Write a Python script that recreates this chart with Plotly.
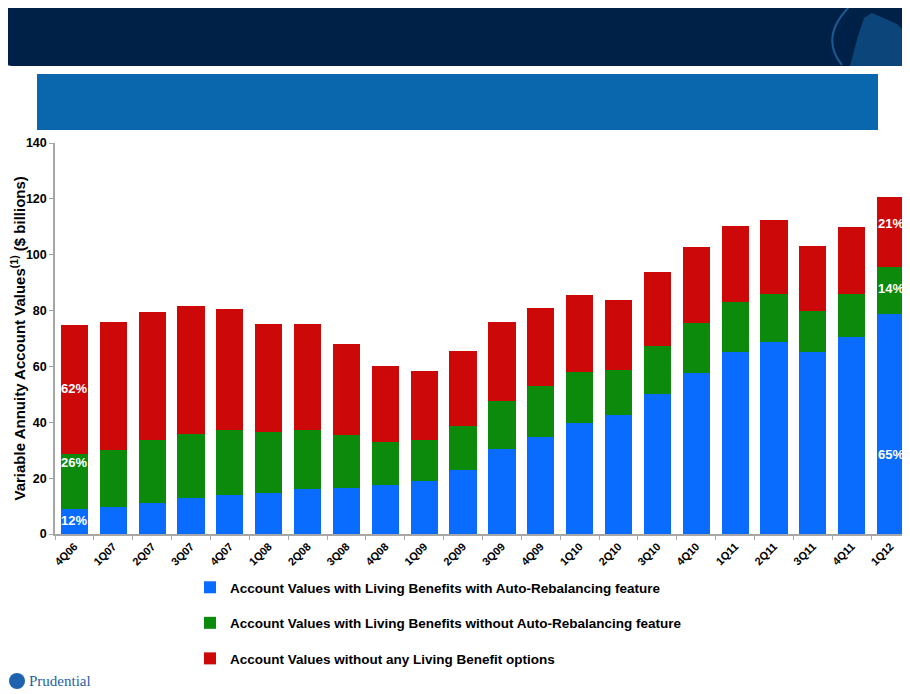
import plotly.graph_objects as go

# quarters on the x axis
quarters = ['4Q06', '1Q07', '2Q07', '3Q07', '4Q07', '1Q08', '2Q08', '3Q08', '4Q08',
            '1Q09', '2Q09', '3Q09', '4Q09', '1Q10', '2Q10', '3Q10', '4Q10',
            '1Q11', '2Q11', '3Q11', '4Q11', '1Q12']

# account values, $ billions
auto_rebal = [9.0, 9.8, 11.2, 12.8, 14.1, 14.6, 16.0, 16.5, 17.7, 19.1, 23.0,
              30.3, 34.9, 39.8, 42.5, 50.0, 57.5, 65.2, 68.8, 65.2, 70.7, 78.6]
no_auto_rebal = [19.6, 20.3, 22.3, 23.1, 23.3, 21.8, 21.4, 18.8, 15.3, 14.4, 15.8,
                 17.5, 18.0, 18.1, 16.1, 17.2, 18.1, 17.8, 17.1, 14.7, 15.3, 16.9]
no_benefit = [46.2, 45.7, 45.9, 45.8, 43.1, 38.7, 37.7, 32.9, 27.0, 24.8, 26.6,
              28.0, 28.0, 27.7, 25.1, 26.6, 27.3, 27.4, 26.7, 23.2, 23.9, 25.3]

series_names = ['Account Values with Living Benefits with Auto-Rebalancing feature',
                'Account Values with Living Benefits without Auto-Rebalancing feature',
                'Account Values without any Living Benefit options']
series_colors = ['#0a6cff', '#0b8a0b', '#cc0808']

# which bars get share labels
share_quarters = ['4Q06', '1Q12']

FONT = 'Liberation Sans, Arial, sans-serif'

# page puts the figure 8px in from the corner, so the figure is 8px smaller
# and everything below is laid out in window pixels
OFF = 8
W, H = 910 - OFF, 694 - OFF
L, R, T, B = 55, 910, 143, 534


def px(x):
    return (x - L) / (R - L)


def py(y):
    return (B - y) / (B - T)


fig = go.Figure()
series = [auto_rebal, no_auto_rebal, no_benefit]
for i, vals in enumerate(series):
    fig.add_trace(go.Bar(x=quarters, y=vals, name=series_names[i],
                         marker=dict(color=series_colors[i], line=dict(width=0)),
                         legendgroup=str(i)))

# share labels, placed inside each segment
label_pos = {('4Q06', 0): 0.55, ('4Q06', 1): 0.85, ('4Q06', 2): 0.51,
             ('1Q12', 0): 0.36, ('1Q12', 1): 0.55, ('1Q12', 2): 0.62}
for q in share_quarters:
    k = quarters.index(q)
    total = sum(s[k] for s in series)
    base = 0
    for i, s in enumerate(series):
        fig.add_annotation(x=q, y=base + s[k] * label_pos[(q, i)],
                           text=f"{round(s[k] / total * 100)}%", showarrow=False,
                           font=dict(family=FONT, size=13, color='white', weight='bold'))
        base += s[k]

# y axis title as an annotation so it can sit closer to the edge
fig.add_annotation(x=px(18), y=0.5, xref='paper', yref='paper', textangle=-90,
                   text='Variable Annuity Account Values<sup>(1)</sup> ($ billions)',
                   showarrow=False, xanchor='center', yanchor='middle',
                   font=dict(family=FONT, size=15, color='black', weight='bold'))

# slide header: dark rounded band and blue title bar
x0, x1, y0, y1, r = px(4), px(908), py(2), py(66), 8
rx, ry = r / (R - L), r / (B - T)
header = (f"M {x0 + rx},{y0} L {x1 - rx},{y0} Q {x1},{y0} {x1},{y0 - ry} "
          f"L {x1},{y1 + ry} Q {x1},{y1} {x1 - rx},{y1} L {x0 + rx},{y1} "
          f"Q {x0},{y1} {x0},{y1 + ry} L {x0},{y0 - ry} Q {x0},{y0} {x0 + rx},{y0} Z")
fig.add_shape(type='path', path=header, xref='paper', yref='paper',
              fillcolor='#002147', line=dict(width=0), layer='below')
fig.add_shape(type='rect', x0=px(37), x1=px(878), y0=py(130), y1=py(74),
              xref='paper', yref='paper', fillcolor='#0a66ad', line=dict(width=0))

# rock emblem in header corner
rock = [(850, 66), (858, 36), (864, 18), (872, 13), (897, 24), (906, 33), (906, 66)]
rock_path = 'M ' + ' L '.join(f"{px(a)},{py(b)}" for a, b in rock) + ' Z'
fig.add_shape(type='path', path=rock_path, xref='paper', yref='paper',
              fillcolor='#0c4579', line=dict(width=0))
fig.add_shape(type='path', xref='paper', yref='paper', line=dict(color='#1d5a92', width=2),
              path=(f"M {px(853)},{py(3)} Q {px(818)},{py(36)} {px(842)},{py(65)}"))

# Prudential logo bottom left
fig.add_shape(type='circle', xref='paper', yref='paper', x0=px(9), x1=px(25),
              y0=py(689), y1=py(673), fillcolor='#1f62b0', line=dict(width=0))
fig.add_annotation(x=px(27), y=py(681), xref='paper', yref='paper', text='Prudential',
                   showarrow=False, xanchor='left', yanchor='middle',
                   font=dict(family='Liberation Serif, serif', size=15, color='#1f5fa6'))

fig.update_layout(
    width=W, height=H,
    margin=dict(l=L - OFF, r=910 - R, t=T - OFF, b=694 - B, pad=0),
    paper_bgcolor='white', plot_bgcolor='white',
    barmode='stack', bargap=0.3,
    font=dict(family=FONT, color='black'),
    legend=dict(x=px(190), y=py(572), xanchor='left', yanchor='top',
                traceorder='grouped', tracegroupgap=15,
                font=dict(family=FONT, size=13.5, color='black', weight='bold')),
    xaxis=dict(showline=True, linecolor='#a6a6a6', linewidth=1.5, ticks='outside',
               tickson='boundaries', ticklen=4, tickcolor='#a6a6a6', tickangle=-45,
               tickfont=dict(family=FONT, size=11, color='black', weight='bold'),
               showgrid=False, automargin=False),
    yaxis=dict(range=[0, 140], dtick=20, showline=True, linecolor='#a6a6a6', linewidth=1.5,
               ticks='outside', ticklen=4, tickcolor='#a6a6a6', showgrid=False, zeroline=False,
               tickfont=dict(family=FONT, size=12.5, color='black', weight='bold'),
               automargin=False),
)

fig.write_html("out.html")
